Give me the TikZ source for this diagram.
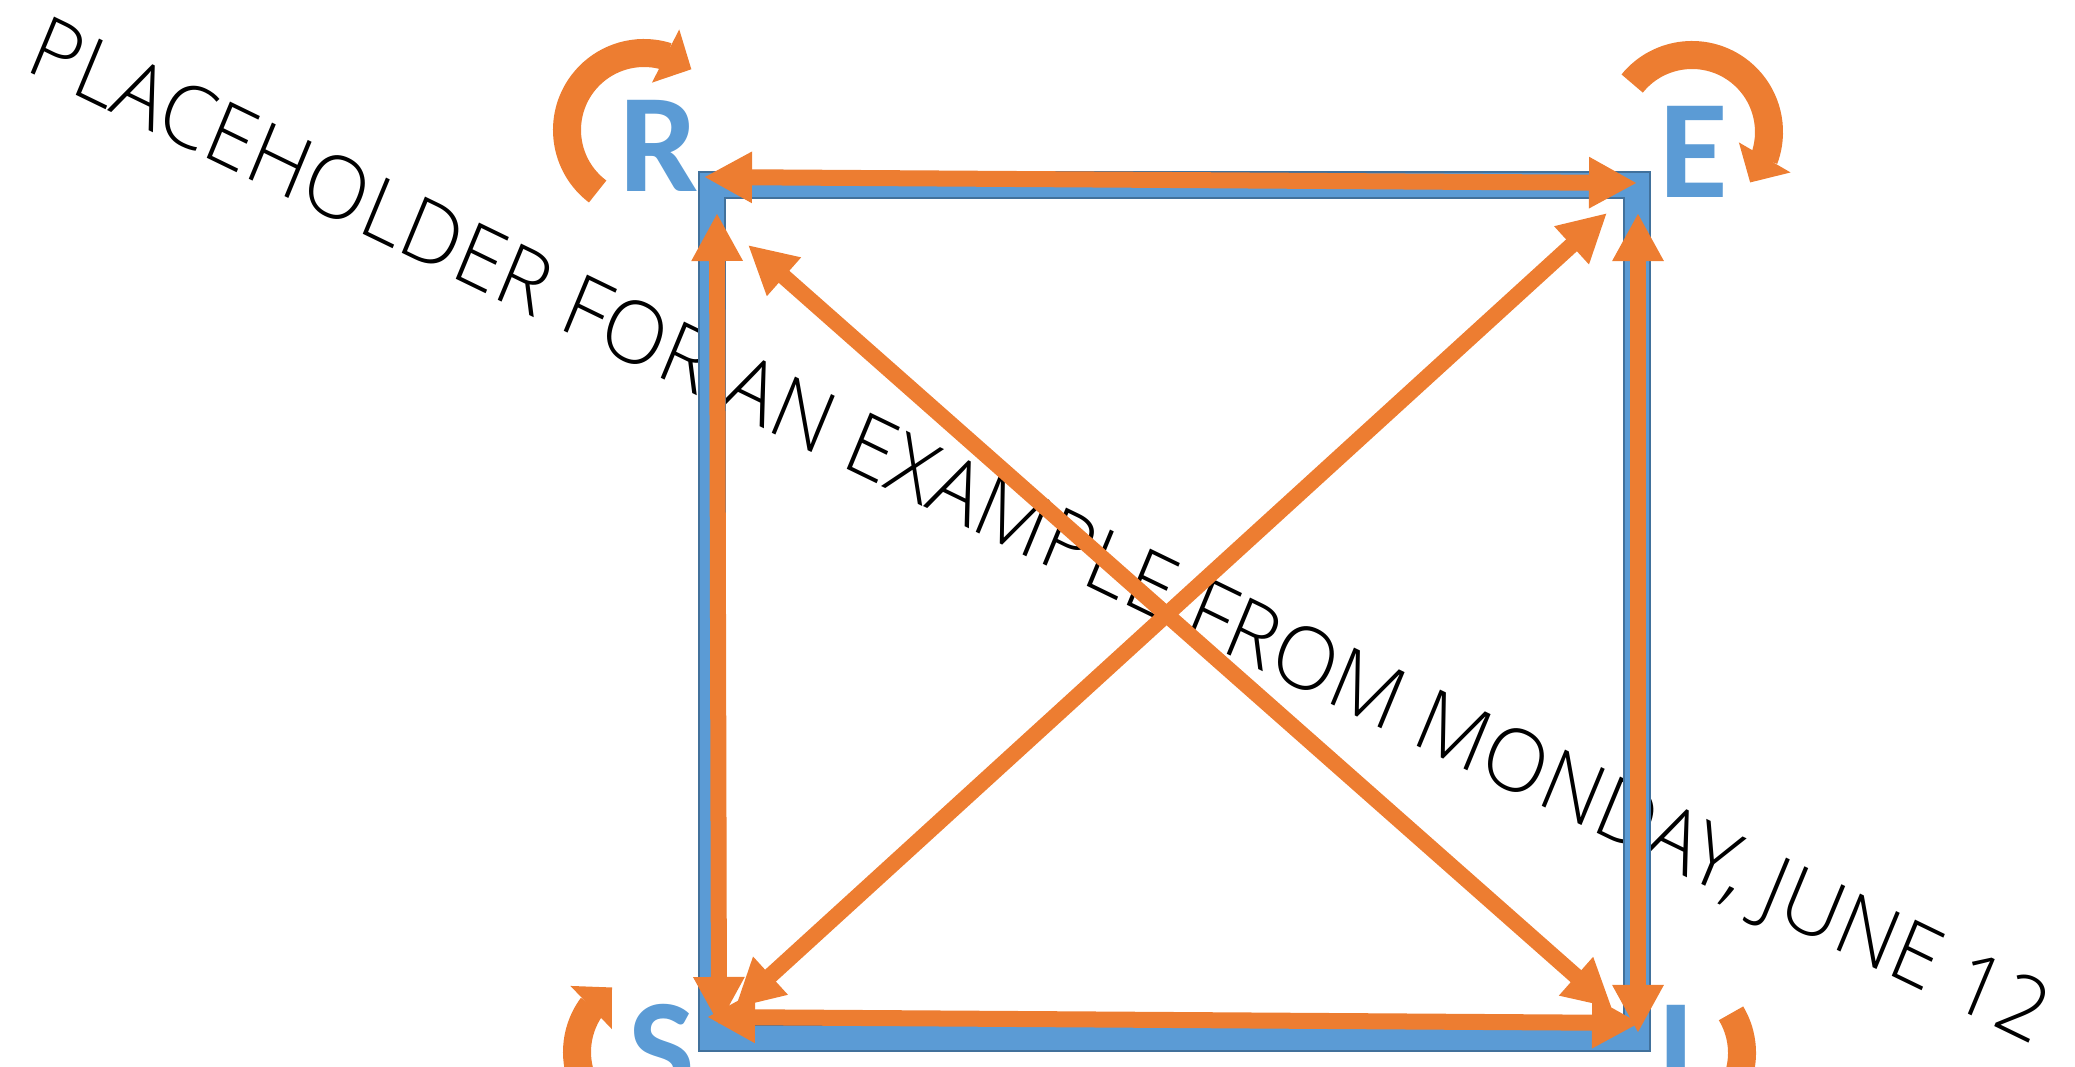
\documentclass[tikz,border=0pt]{standalone}
\usepackage{fontspec}
\usepackage{xcolor}
\usepackage{tikz}
\usetikzlibrary{arrows.meta,bending}
\newfontfamily\letterfont{Carlito}
\newfontfamily\notefont{Open Sans Light}
\definecolor{figblue}{HTML}{5B9BD5}
\definecolor{figblueline}{HTML}{41719C}
\definecolor{figorange}{HTML}{ED7D31}

\begin{document}
\begin{tikzpicture}[
  x=0.01cm, y=-0.01cm,
  letter/.style={text=figblue, inner sep=0pt,
                 font=\letterfont\bfseries\fontsize{40}{40}\selectfont},
  note/.style={inner sep=0pt, anchor=base west,
               font=\notefont\fontsize{24.2}{24.2}\selectfont},
  link/.style={{Triangle[length=4.8mm,width=4.8mm]}-{Triangle[length=4.8mm,width=4.8mm]},
               line width=1.6mm, figorange},
  spin/.style={-{Triangle[length=2.9mm,width=5.8mm]}, line width=2.8mm, figorange},
]
\useasboundingbox (0,0) rectangle (2075,1067);
\clip (0,0) rectangle (2075,1067);
% Placeholder text
\node[note, rotate=-25.9, xslant=-0.06] (memo) at (23,69)
  {PLACEHOLDER FOR AN EXAMPLE FROM MONDAY, JUNE 12};
% Frame
\coordinate (cR) at (712,185);
\coordinate (cE) at (1637,185);
\coordinate (cS) at (712,1038);
\coordinate (cI) at (1637,1038);
\filldraw[fill=figblue, draw=figblueline, line width=0.4pt, even odd rule]
  (699,172) rectangle (1650,1051) (725,198) rectangle (1624,1025);
% Corner letters
\node[letter] (R) at (659,146) {R};
\node[letter] (E) at (1694,152) {E};
\node[letter] (S) at (662,1051) {S};
\node[letter] (I) at (1676,1051) {I};
% Edges
\draw[link] ([shift={(-8,-8)}]cR) -- ([shift={(0,-2)}]cE);
\draw[link] ([shift={(5,28)}]cR) -- ([shift={(7,-13)}]cS);
\draw[link] ([shift={(1,28)}]cE) -- ([shift={(1,-5)}]cI);
\draw[link] ([shift={(-5,-21)}]cS) -- ([shift={(3,-15)}]cI);
\draw[link] ([shift={(36,60)}]cR) -- ([shift={(-25,-30)}]cI);
\draw[link] ([shift={(23,-30)}]cS) -- ([shift={(-30,28)}]cE);
% Self loops
\draw[spin] ([shift={(-15,-16)}]R.center) ++(127:77)
  arc[start angle=127, end angle=308, radius=77];
\draw[spin] ([shift={(-2,-20)}]E.center) ++(219:77)
  arc[start angle=219, end angle=401, radius=77];
\draw[spin] ([shift={(-8,1)}]S.center) ++(56:77)
  arc[start angle=56, end angle=237, radius=77];
\draw[spin] ([shift={(-11,2)}]I.center) ++(329:77)
  arc[start angle=329, end angle=510, radius=77];
\end{tikzpicture}
\end{document}
